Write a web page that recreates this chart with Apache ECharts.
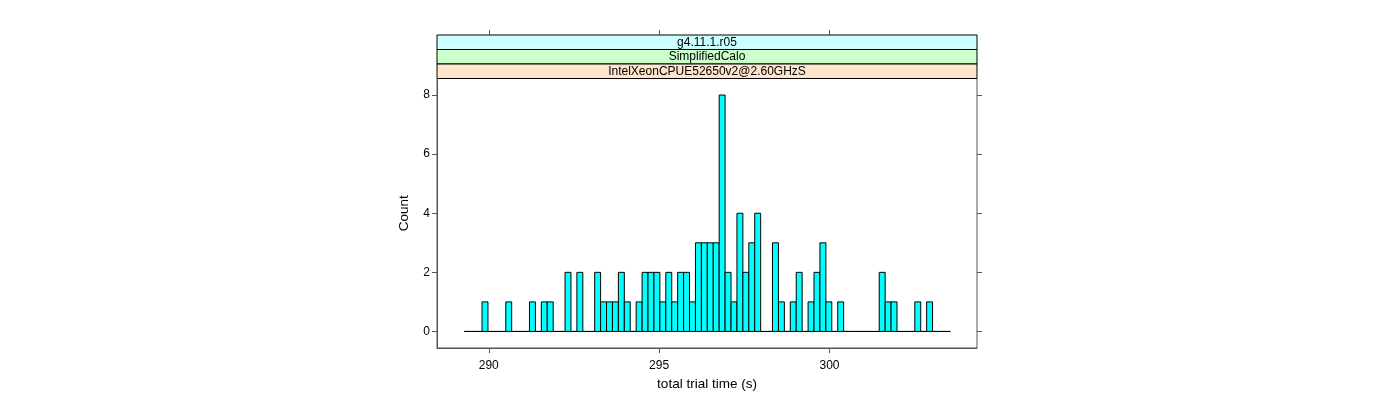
<!DOCTYPE html>
<html>
<head>
<meta charset="utf-8">
<script src="https://cdn.jsdelivr.net/npm/echarts@6/dist/echarts.min.js"></script>
<style>
html,body{margin:0;padding:0;background:#fff;}
#chart{width:1400px;height:400px;}
</style>
</head>
<body>
<div id="chart"></div>
<script>
// ---- data ----
const binStart = 289.28;   // left edge of first bin (s)
const binWidth = 0.174;    // bin width (s)
const counts = [
  0,0,0,1,0,0,0,1,0,0,
  0,1,0,1,1,0,0,2,0,2,
  0,0,2,1,1,1,2,1,0,1,
  2,2,2,1,2,1,2,2,1,3,
  3,3,3,8,2,1,4,2,3,4,
  0,0,3,1,0,1,2,0,1,2,
  3,1,0,1,0,0,0,0,0,0,
  2,1,1,0,0,0,1,0,1,0,
  0,0
];
const xTicks = [290, 295, 300];
const yTicks = [0, 2, 4, 6, 8];
const stripLabels = ['g4.11.1.r05', 'SimplifiedCalo', 'IntelXeonCPUE52650v2@2.60GHzS'];
const stripColors = ['#CCFFFF', '#CCFFCC', '#FFE5CC'];
const xName = 'total trial time (s)';
const yName = 'Count';
const xMin = 288.48, xMax = 304.33;
const yMin = -0.56, yMax = 8.56;

// ---- layout ----
const gridLeft = 437, gridRight = 977, gridTop = 78.5, gridBottom = 348;
const stripH = 14.5;
const font = 'Liberation Sans, Arial, Helvetica, sans-serif';

const chart = echarts.init(document.getElementById('chart'), null, {renderer: 'canvas'});

const barData = counts.map((c, k) => [binStart + k * binWidth, c]);

const stripGraphics = [];
stripLabels.forEach((lab, i) => {
  const y = gridTop - stripH * (stripLabels.length - i);
  stripGraphics.push({
    type: 'rect',
    shape: {x: gridLeft, y: y, width: gridRight - gridLeft, height: stripH},
    style: {fill: stripColors[i], stroke: '#000', lineWidth: 1},
    z: 0
  });
  stripGraphics.push({
    type: 'text',
    x: (gridLeft + gridRight) / 2,
    y: y + stripH / 2,
    style: {text: lab, fill: '#000', font: '12px ' + font, align: 'center', verticalAlign: 'middle'},
    z: 1
  });
});

const tickStyle = {color: '#555', width: 1};

chart.setOption({
  animation: false,
  backgroundColor: '#fff',
  grid: {
    left: gridLeft, right: 1400 - gridRight, top: gridTop, bottom: 400 - gridBottom,
    show: true, borderColor: '#555', borderWidth: 1, backgroundColor: 'transparent'
  },
  xAxis: [{
    type: 'value', min: xMin, max: xMax, position: 'bottom',
    splitLine: {show: false},
    axisLine: {show: true, onZero: false, lineStyle: tickStyle},
    axisTick: {show: true, inside: false, length: 5, lineStyle: tickStyle, customValues: xTicks},
    axisLabel: {customValues: xTicks, color: '#000', fontSize: 12, fontFamily: font, margin: 12},
    name: xName, nameLocation: 'middle', nameGap: 29,
    nameTextStyle: {color: '#000', fontSize: 13.5, fontFamily: font}
  }, {
    type: 'value', min: xMin, max: xMax, position: 'top', offset: stripH * 3,
    splitLine: {show: false},
    axisLine: {show: false, onZero: false},
    axisTick: {show: true, inside: false, length: 5, lineStyle: tickStyle, customValues: xTicks},
    axisLabel: {show: false}
  }],
  yAxis: [{
    type: 'value', min: yMin, max: yMax, position: 'left',
    splitLine: {show: false},
    axisLine: {show: true, onZero: false, lineStyle: tickStyle},
    axisTick: {show: true, inside: false, length: 5, lineStyle: tickStyle, customValues: yTicks},
    axisLabel: {customValues: yTicks, color: '#000', fontSize: 12, fontFamily: font, margin: 7},
    name: yName, nameLocation: 'middle', nameGap: 26, nameRotate: 90,
    nameTextStyle: {color: '#000', fontSize: 13.5, fontFamily: font}
  }, {
    type: 'value', min: yMin, max: yMax, position: 'right',
    splitLine: {show: false},
    axisLine: {show: false, onZero: false},
    axisTick: {show: true, inside: false, length: 5, lineStyle: tickStyle, customValues: yTicks},
    axisLabel: {show: false}
  }],
  series: [{
    type: 'custom',
    xAxisIndex: 0, yAxisIndex: 0,
    clip: false,
    data: barData,
    renderItem: function (params, api) {
      const x0 = api.value(0);
      const c = api.value(1);
      const p0 = api.coord([x0, c]);
      const p1 = api.coord([x0 + binWidth, 0]);
      return {
        type: 'rect',
        shape: {x: p0[0], y: p0[1], width: p1[0] - p0[0], height: p1[1] - p0[1]},
        style: {fill: '#00FFFF', stroke: '#000', lineWidth: 1}
      };
    }
  }],
  graphic: stripGraphics
});
</script>
</body>
</html>
